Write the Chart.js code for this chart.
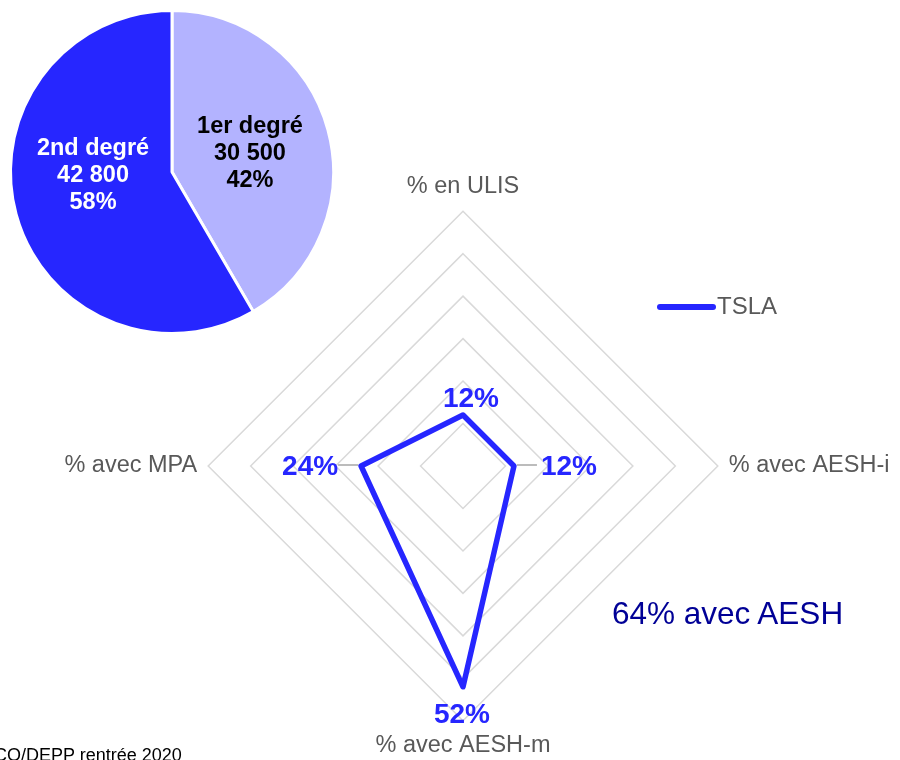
<!DOCTYPE html>
<html>
<head>
<meta charset="utf-8">
<script src="https://cdn.jsdelivr.net/npm/chart.js@4/dist/chart.umd.min.js"></script>
<style>
html, body { margin: 0; padding: 0; width: 900px; height: 760px; overflow: hidden; background: #fff; }
#pieBox { position: absolute; left: 2px; top: 2px; width: 340px; height: 340px; }
#radarBox { position: absolute; left: -40px; top: 0; width: 1060px; height: 800px; }
.note { position: absolute; font-family: 'Liberation Sans', Arial, sans-serif; white-space: nowrap; }
#aesh { left: 612px; top: 595px; font-size: 31.5px; color: #000096; }
#source { left: -6px; top: 746px; font-size: 18px; line-height: 18px; color: #000; }
</style>
</head>
<body>
<div id="radarBox"><canvas id="radar"></canvas></div>
<div id="pieBox"><canvas id="pie"></canvas></div>
<div class="note" id="aesh">64% avec AESH</div>
<div class="note" id="source">CO/DEPP rentrée 2020</div>
<script>
// donnees du graphique
var pieLabels = ['1er degré', '2nd degré'];
var pieValues = [30500, 42800];
var pieColors = ['#b3b3ff', '#2626ff'];
var pieTextColors = ['#000000', '#ffffff'];

var radarLabels = ['% en ULIS', '% avec AESH-i', '% avec AESH-m', '% avec MPA'];
var tslaValues = [12, 12, 52, 24];
var seriesName = 'TSLA';

var FONT = "'Liberation Sans', Arial, sans-serif";
var BLUE = '#2626ff';
var GREY = '#595959';

function formatNumber(v){
    return String(v).replace(/\B(?=(\d{3})+(?!\d))/g, ' ');
}

// Labels inside pie slices
var pieLabelPlugin = {
    id: 'pieLabels',
    afterDatasetsDraw: function(chart){
        var ctx = chart.ctx;
        var meta = chart.getDatasetMeta(0);
        var total = pieValues.reduce(function(a, b){ return a + b; }, 0);
        var shift = [[0, 3], [-1, -18]];
        ctx.save();
        ctx.font = 'bold 23.5px ' + FONT;
        ctx.textAlign = 'center';
        ctx.textBaseline = 'middle';
        meta.data.forEach(function(arc, i){
            var p = arc.tooltipPosition();
            var lines = [pieLabels[i], formatNumber(pieValues[i]), Math.round(pieValues[i] / total * 100) + '%'];
            ctx.fillStyle = pieTextColors[i];
            for (var k = 0; k < lines.length; k++){
                ctx.fillText(lines[k], p.x + shift[i][0], p.y + shift[i][1] + (k - 1) * 27);
            }
        });
        ctx.restore();
    }
};

new Chart(document.getElementById('pie'), {
    type: 'pie',
    data: {
        labels: pieLabels,
        datasets: [{
            data: pieValues,
            backgroundColor: pieColors,
            borderColor: '#ffffff',
            borderWidth: 3
        }]
    },
    options: {
        responsive: true,
        maintainAspectRatio: false,
        animation: false,
        layout: { padding: 7 },
        plugins: { legend: { display: false }, tooltip: { enabled: false } }
    },
    plugins: [pieLabelPlugin]
});

// Value labels on radar points, with small leader lines on the sides
var radarLabelPlugin = {
    id: 'radarLabels',
    afterDatasetsDraw: function(chart){
        var ctx = chart.ctx;
        var meta = chart.getDatasetMeta(0);
        var offs = [[8, -16], [55, 1], [-1, 28], [-51, 1]];
        var leaders = [null, [3, 23], null, [-3, -23]];
        ctx.save();
        meta.data.forEach(function(pt, i){
            if (leaders[i]){
                ctx.strokeStyle = '#a6a6a6';
                ctx.lineWidth = 1.5;
                ctx.beginPath();
                ctx.moveTo(pt.x + leaders[i][0], pt.y - 1);
                ctx.lineTo(pt.x + leaders[i][1], pt.y - 1);
                ctx.stroke();
            }
            ctx.font = 'bold 28px ' + FONT;
            ctx.fillStyle = BLUE;
            ctx.textAlign = 'center';
            ctx.textBaseline = 'middle';
            ctx.fillText(tslaValues[i] + '%', pt.x + offs[i][0], pt.y + offs[i][1]);
        });
        ctx.restore();
    },
    afterDraw: function(chart){
        // legend entry for the series
        var ctx = chart.ctx;
        var ds = chart.data.datasets[0];
        var x0 = 700, y0 = 307;
        ctx.save();
        ctx.strokeStyle = ds.borderColor;
        ctx.lineWidth = 6;
        ctx.lineCap = 'round';
        ctx.beginPath();
        ctx.moveTo(x0, y0);
        ctx.lineTo(x0 + 53, y0);
        ctx.stroke();
        ctx.font = '24px ' + FONT;
        ctx.fillStyle = GREY;
        ctx.textAlign = 'left';
        ctx.textBaseline = 'middle';
        ctx.fillText(ds.label, x0 + 57, y0);
        ctx.restore();
    }
};

new Chart(document.getElementById('radar'), {
    type: 'radar',
    data: {
        labels: radarLabels,
        datasets: [{
            label: seriesName,
            data: tslaValues,
            borderColor: BLUE,
            backgroundColor: 'rgba(0,0,0,0)',
            borderWidth: 5.5,
            borderJoinStyle: 'round',
            fill: false,
            pointRadius: 0,
            tension: 0
        }]
    },
    options: {
        responsive: true,
        maintainAspectRatio: false,
        animation: false,
        layout: { padding: { left: 0, right: 54, top: 173, bottom: 39 } },
        scales: {
            r: {
                min: 0,
                max: 60,
                ticks: { display: false, stepSize: 10 },
                grid: { color: '#d9d9d9', lineWidth: 1.5 },
                angleLines: { display: false },
                pointLabels: {
                    color: GREY,
                    padding: 11,
                    font: { family: FONT, size: 23.5 }
                }
            }
        },
        plugins: { legend: { display: false }, tooltip: { enabled: false } }
    },
    plugins: [radarLabelPlugin]
});
</script>
</body>
</html>
